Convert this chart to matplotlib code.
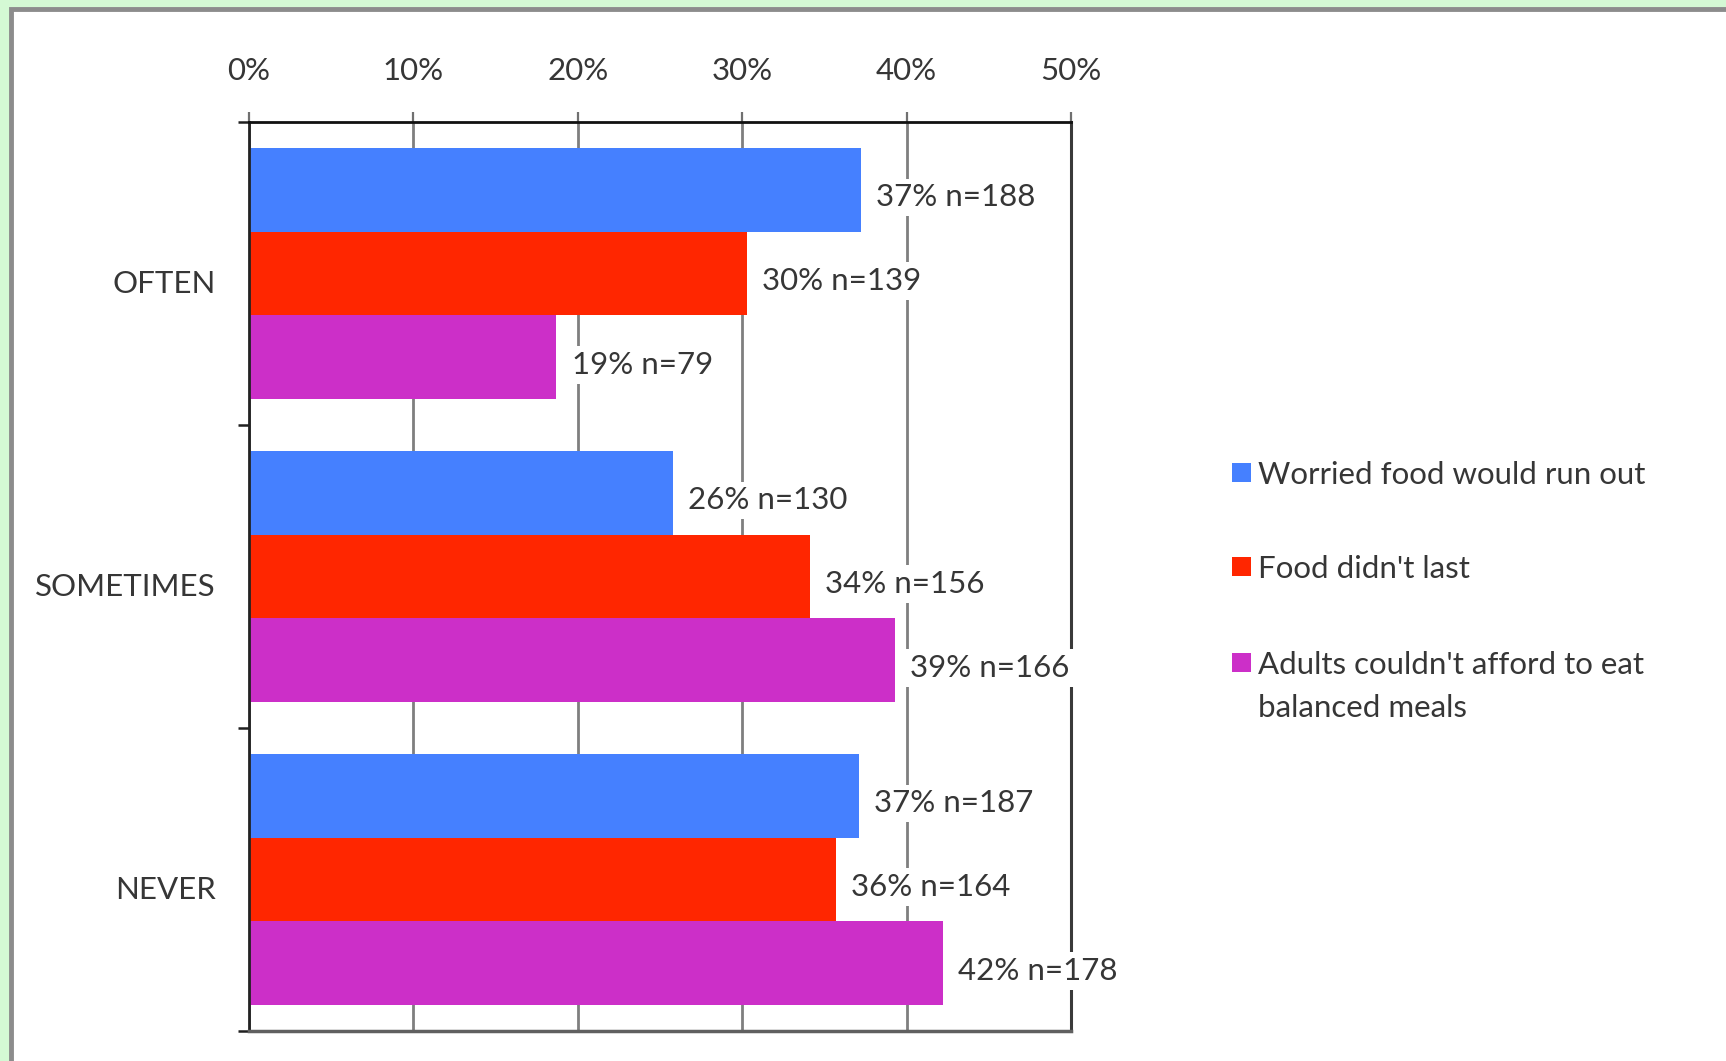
import matplotlib
matplotlib.use('Agg')
import matplotlib.pyplot as plt
from matplotlib.patches import Rectangle
from matplotlib.transforms import ScaledTranslation
import numpy as np

plt.rcParams['font.family'] = ['Lato', 'DejaVu Sans']

categories = ['OFTEN', 'SOMETIMES', 'NEVER']
series = ["Worried food would run out", "Food didn't last",
          "Adults couldn't afford to eat\nbalanced meals"]
colors = ['#4580ff', '#ff2600', '#cc2fc8']
# percent values per series (OFTEN, SOMETIMES, NEVER)
worried = [37.2, 25.8, 37.1]
didnt_last = [30.3, 34.1, 35.7]
couldnt_afford = [18.7, 39.3, 42.2]
labels_worried = ['37% n=188', '26% n=130', '37% n=187']
labels_didnt = ['30% n=139', '34% n=156', '36% n=164']
labels_afford = ['19% n=79', '39% n=166', '42% n=178']
xticks = [0, 10, 20, 30, 40, 50]

values = [worried, didnt_last, couldnt_afford]
bar_labels = [labels_worried, labels_didnt, labels_afford]
txtcol = '#363636'
fs = 22.5

fig = plt.figure(figsize=(17.26, 10.61), dpi=100)
fig.patch.set_facecolor('#d4f9d4')
# white panel with grey border
fig.patches.append(Rectangle((11/1726, -0.1), 1.2, 1 - 9/1061 + 0.1,
                             transform=fig.transFigure, facecolor='white',
                             edgecolor='#8c8c8c', linewidth=3.5, zorder=-5))

ax = fig.add_axes([249/1726, 1 - 1031/1061, 822/1726, 909/1061])
ax.set_zorder(2)
ax.set_facecolor('white')

centers = np.arange(len(categories)) + 0.5
h = 0.277
for i in range(3):
    ys = centers + (i - 1) * h
    ax.barh(ys, values[i], height=h, color=colors[i], zorder=2)
    for y, v, lab in zip(ys, values[i], bar_labels[i]):
        ax.annotate(lab, (v, y), xytext=(11, -5.5), textcoords='offset points',
                    va='center', ha='left', fontsize=fs, color=txtcol, zorder=4,
                    bbox=dict(boxstyle='square,pad=0.15', fc='white', ec='none'))

ax.set_xlim(0, 50)
ax.set_ylim(3, 0)
ax.xaxis.tick_top()
ax.set_xticks(xticks)
ax.set_xticklabels([f'{t}%' for t in xticks])
ax.tick_params(axis='x', which='major', direction='out', length=7.5, width=1.6,
               color='#707070', labelsize=fs, labelcolor=txtcol, pad=19)
ax.set_yticks([0, 1, 2, 3])
ax.set_yticklabels([])
ax.set_yticks(centers, minor=True)
ax.set_yticklabels(categories, minor=True)
ax.tick_params(axis='y', which='major', direction='out', length=8, width=1.8,
               color='#202020')
ax.tick_params(axis='y', which='minor', length=0, labelsize=fs,
               labelcolor=txtcol, pad=24)
shift = ScaledTranslation(0, -5.5/72, fig.dpi_scale_trans)
for t in ax.get_yticklabels(minor=True):
    t.set_transform(t.get_transform() + shift)
ax.grid(axis='x', color='#7f7f7f', linewidth=2, zorder=1)
ax.set_axisbelow(True)
ax.spines['top'].set_color('#111111')
ax.spines['top'].set_linewidth(2)
ax.spines['left'].set_color('#222222')
ax.spines['left'].set_linewidth(2)
ax.spines['right'].set_color('#3a3a3a')
ax.spines['right'].set_linewidth(2.2)
ax.spines['bottom'].set_color('#606060')
ax.spines['bottom'].set_linewidth(2.5)

# legend on the right
leg_y = [473, 567, 663]
for col, lab, y in zip(colors, series, leg_y):
    fig.patches.append(Rectangle((1232/1726, 1 - (y + 9)/1061), 19/1726, 19/1061,
                                 transform=fig.transFigure, facecolor=col,
                                 edgecolor='none', zorder=3))
    fig.text(1258/1726, 1 - (y - 12)/1061, lab, fontsize=fs, color=txtcol,
             va='top', ha='left', linespacing=1.65, zorder=3)

fig.savefig('out.png', dpi=100, facecolor=fig.get_facecolor())
